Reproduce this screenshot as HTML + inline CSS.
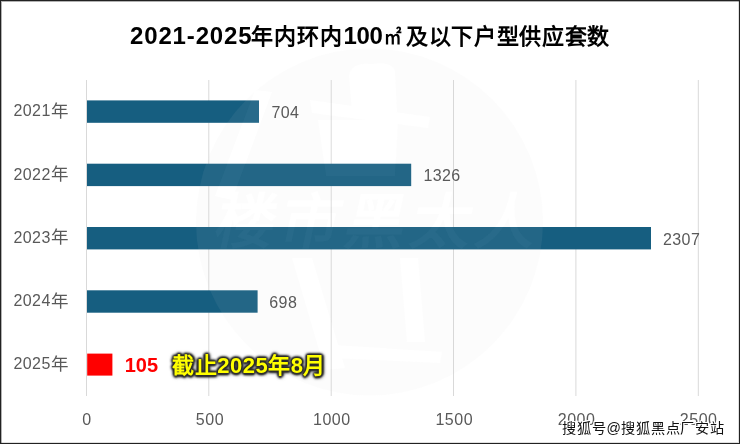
<!DOCTYPE html>
<html lang="zh-CN">
<head>
<meta charset="utf-8">
<style>
html,body{margin:0;padding:0;}
body{width:740px;height:444px;overflow:hidden;background:#fff;position:relative;font-family:"Liberation Sans",sans-serif;}
.frame{position:absolute;left:0;top:0;width:738px;height:442px;border:1px solid #222;box-shadow:inset 1px 1px 0 rgba(0,0,0,0.3),inset -1px -1px 0 rgba(0,0,0,0.12);}
.t{position:absolute;white-space:nowrap;line-height:1;}
.tb{font-weight:bold;color:#000;}
.cd{font-size:16px;letter-spacing:0.45px;color:#595959;}
.cy{font-size:17.5px;color:#595959;}
.val{font-size:16px;letter-spacing:0.4px;color:#595959;}
.ax{font-size:16px;letter-spacing:0.5px;color:#595959;}
svg{position:absolute;left:0;top:0;}
</style>
</head>
<body><div id="wrap" style="position:absolute;left:0;top:0;width:740px;height:444px;will-change:transform">
<svg width="740" height="444" viewBox="0 0 740 444">
  <g fill="#d9d9d9">
    <rect x="86" y="80" width="1" height="316"/>
    <rect x="208.3" y="80" width="1" height="316"/>
    <rect x="330.7" y="80" width="1" height="316"/>
    <rect x="453" y="80" width="1" height="316"/>
    <rect x="575.4" y="80" width="1" height="316"/>
    <rect x="697.8" y="80" width="1" height="316"/>
  </g>
  <g fill="#165e80">
    <rect x="87" y="100.4" width="172" height="22.4"/>
    <rect x="87" y="163.7" width="324.2" height="22.4"/>
    <rect x="87" y="227" width="564" height="22.4"/>
    <rect x="87" y="290.3" width="170.6" height="22.4"/>
  </g>
  <rect x="87.2" y="353.6" width="25.2" height="22" fill="#ff0000"/>
</svg>
<div class="frame"></div>
<svg width="740" height="444" viewBox="0 0 740 444">
  <defs>
    <mask id="wm" maskUnits="userSpaceOnUse" x="0" y="0" width="740" height="444">
      <rect x="0" y="0" width="740" height="444" fill="#fff"/>
      <g fill="#000">
    <path d="M352,112 L349,76 Q351,62 372,64 Q393,61 395,72 L397,112 Z"/>
    <path d="M310,100 L430,117 L428,128 L312,113 Z"/>
    <path d="M318,120 L398,120 L395,176 L326,176 Z"/>
    <path d="M255,90 L272,92 L232,200 L215,196 Z"/>
    <path d="M292,258 L312,258 L345,368 L325,370 Z"/>
    <path d="M400,258 L418,258 L425,342 L407,342 Z"/>
    <path d="M335,345 L442,352 L440,363 L333,358 Z"/>
    <text x="212" y="242.8" font-family="Liberation Sans" font-size="60" font-weight="bold" letter-spacing="5" transform="translate(212,242) skewX(-12) translate(-212,-242)">楼市黑太人</text>
      </g>
    </mask>
  </defs>
  <circle cx="369.5" cy="222" r="173.5" fill="rgba(206,206,206,0.071)" mask="url(#wm)"/>
  <g fill="rgba(255,255,255,0.08)">
    <path d="M352,112 L349,76 Q351,62 372,64 Q393,61 395,72 L397,112 Z"/>
    <path d="M310,100 L430,117 L428,128 L312,113 Z"/>
    <path d="M318,120 L398,120 L395,176 L326,176 Z"/>
    <path d="M255,90 L272,92 L232,200 L215,196 Z"/>
    <path d="M292,258 L312,258 L345,368 L325,370 Z"/>
    <path d="M400,258 L418,258 L425,342 L407,342 Z"/>
    <path d="M335,345 L442,352 L440,363 L333,358 Z"/>
    <text x="212" y="242.8" font-family="Liberation Sans" font-size="60" font-weight="bold" letter-spacing="5" transform="translate(212,242) skewX(-12) translate(-212,-242)">楼市黑太人</text>
  </g>
</svg>

<div class="t tb" style="left:130px;top:23.5px;font-size:24px;letter-spacing:0.85px">2021-2025</div>
<div class="t tb" style="left:251.4px;top:26.3px;font-size:22px;letter-spacing:0.8px">年内环内</div>
<div class="t tb" style="left:343.5px;top:23.5px;font-size:24px;letter-spacing:-0.3px">100</div>
<div class="t tb" style="left:384px;top:28px;font-size:19px;transform:scaleX(0.92);transform-origin:0 0">㎡</div>
<div class="t tb" style="left:406.2px;top:26.3px;font-size:22px;letter-spacing:0.62px">及以下户型供应套数</div>

<div class="t cd" style="left:13.4px;top:103.3px">2021</div><div class="t cy" style="left:51px;top:103px">年</div>
<div class="t cd" style="left:13.4px;top:166.5px">2022</div><div class="t cy" style="left:51px;top:166.2px">年</div>
<div class="t cd" style="left:13.4px;top:229.7px">2023</div><div class="t cy" style="left:51px;top:229.4px">年</div>
<div class="t cd" style="left:13.4px;top:292.9px">2024</div><div class="t cy" style="left:51px;top:292.6px">年</div>
<div class="t cd" style="left:13.4px;top:356.1px">2025</div><div class="t cy" style="left:51px;top:355.8px">年</div>

<div class="t val" style="left:271.4px;top:105px">704</div>
<div class="t val" style="left:423.4px;top:168px">1326</div>
<div class="t val" style="left:663px;top:231.6px">2307</div>
<div class="t val" style="left:269.3px;top:294.5px">698</div>
<div class="t" style="left:124.7px;top:354.8px;font-size:20px;font-weight:bold;color:#ff0000">105</div>
<div class="t" style="left:172.2px;top:354.6px;font-size:22px;letter-spacing:0.5px;font-weight:bold;color:#ffff00;text-shadow:1.5px 0 2px #2a2a2a,-1.5px 0 2px #2a2a2a,0 1.5px 2px #2a2a2a,0 -1.5px 2px #2a2a2a,1px 1px 2.5px #333,-1px -1px 2.5px #333,1px -1px 2.5px #333,-1px 1px 2.5px #333,1px 1px 4px #555,0 0 4px #666">截止2025年8月</div>

<div class="t ax" style="left:37.00px;top:411.7px;width:100px;text-align:center">0</div>
<div class="t ax" style="left:159.95px;top:411.7px;width:100px;text-align:center">500</div>
<div class="t ax" style="left:281.85px;top:411.7px;width:100px;text-align:center">1000</div>
<div class="t ax" style="left:404.25px;top:411.7px;width:100px;text-align:center">1500</div>
<div class="t ax" style="left:526.55px;top:411.7px;width:100px;text-align:center">2000</div>
<div class="t ax" style="left:648.65px;top:411.7px;width:100px;text-align:center">2500</div>

<div class="t" style="left:562.3px;top:421.4px;font-size:14.2px;font-weight:500;letter-spacing:0.7px;color:#111;text-shadow:1px 1px 0 #fff,-1px -1px 0 #fff,1px -1px 0 #fff,-1px 1px 0 #fff,0 1px 0 #fff,0 -1px 0 #fff,1px 0 0 #fff,-1px 0 0 #fff">搜狐号@搜狐黑点厂安站</div>
</div></body>
</html>
